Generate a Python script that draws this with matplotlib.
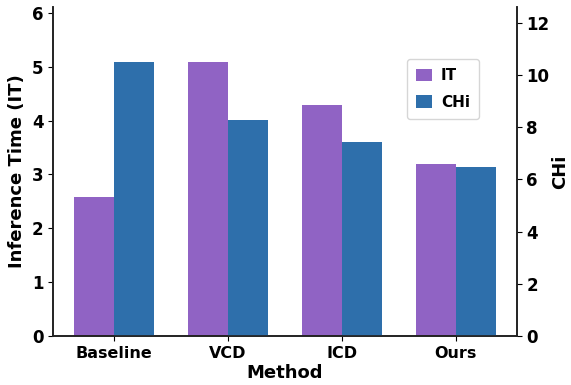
import matplotlib
matplotlib.use("Agg")
import matplotlib.pyplot as plt
import numpy as np

methods = ["Baseline", "VCD", "ICD", "Ours"]
it_values = [2.58, 5.09, 4.29, 3.2]
chi_values = [10.5, 8.28, 7.43, 6.48]

purple = "#9063c4"
blue = "#2e6fab"

plt.rcParams['font.family'] = ['DejaVu Sans']
plt.rcParams['font.weight'] = 'bold'

fig = plt.figure(figsize=(5.71, 3.85), dpi=100)
ax = fig.add_axes([0.093, 0.127, 0.812, 0.855])
ax2 = ax.twinx()

x = np.arange(len(methods))
w = 0.35
b1 = ax.bar(x - w/2, it_values, w, color=purple, label="IT")
b2 = ax2.bar(x + w/2, chi_values, w, color=blue, label="CHi")

ax.set_ylim(0, 6.11)
ax2.set_ylim(0, 12.6)
ax.set_yticks(range(0, 7))
ax2.set_yticks(range(0, 13, 2))
ax.set_xticks(x)
ax.set_xticklabels(methods, fontsize=11.5, fontweight='bold')
for lab in ax.get_yticklabels() + ax2.get_yticklabels():
    lab.set_fontsize(12)
    lab.set_fontweight('bold')

ax.set_xlabel("Method", fontsize=13, fontweight='bold', labelpad=2)
ax.set_ylabel("Inference Time (IT)", fontsize=13, fontweight='bold', labelpad=4)
ax2.set_ylabel("CHi", fontsize=13, fontweight='bold', labelpad=1)

for a in (ax, ax2):
    a.spines['top'].set_visible(False)
    for s in a.spines.values():
        s.set_linewidth(1.2)
        s.set_color('#222222')

ax.legend([b1, b2], ["IT", "CHi"], loc='upper right', bbox_to_anchor=(0.935, 0.865),
          fontsize=11, handlelength=1.0, handleheight=0.9, borderpad=0.6,
          labelspacing=0.75, handletextpad=0.6)

fig.savefig("out.png", dpi=100)
